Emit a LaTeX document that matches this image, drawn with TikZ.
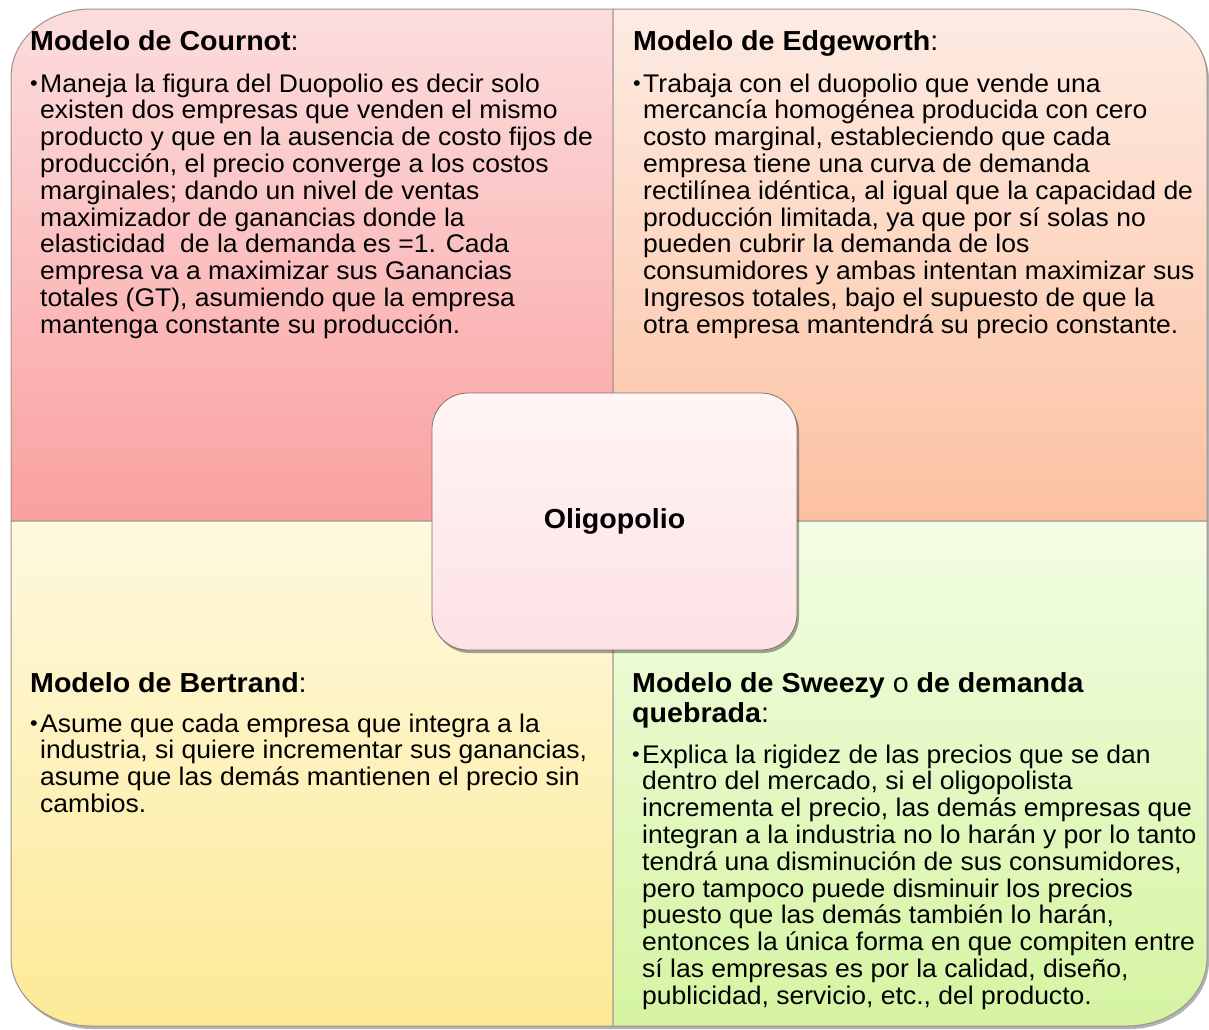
\documentclass[tikz,border=0pt]{standalone}
\usepackage{fontspec}
\setmainfont{Liberation Sans}[FakeStretch=1.04]
\usetikzlibrary{shadows}
\definecolor{tlTop}{HTML}{FCDDDD}
\definecolor{tlBot}{HTML}{FAA0A0}
\definecolor{trTop}{HTML}{FDEBE2}
\definecolor{trBot}{HTML}{FCC1A1}
\definecolor{blTop}{HTML}{FEF9DF}
\definecolor{blBot}{HTML}{FDE996}
\definecolor{brTop}{HTML}{F3FDE4}
\definecolor{brBot}{HTML}{D5F4A2}
\definecolor{cTop}{HTML}{FFF5F5}
\definecolor{cBot}{HTML}{FDE1E5}
\definecolor{edge}{HTML}{9C948F}
\tikzset{
  quad/.style={draw=edge, line width=1pt},
  headtxt/.style={anchor=base west, inner sep=0pt, font=\fontsize{27.5}{30}\selectfont},
  bodytxt/.style={anchor=base west, inner sep=0pt, font=\fontsize{25.5}{26.8}\selectfont},
  centerbox/.style={draw=edge!80!black, line width=0.8pt, rounded corners=36pt,
    top color=cTop, bottom color=cBot, minimum width=365pt, minimum height=257pt,
    font=\fontsize{27.5}{30}\selectfont\bfseries,
    drop shadow={shadow xshift=2pt, shadow yshift=-3pt, opacity=0.35, fill=black}},
}
\newcommand{\bul}{\leavevmode\llap{\raisebox{1.5pt}{\fontsize{21}{21}\selectfont•}\hspace{2.5pt}}}
\begin{document}
\begin{tikzpicture}[x=1pt,y=1pt]
\useasboundingbox (0,0) rectangle (1209,-1029);
\fill[white] (0,0) rectangle (1209,-1029);
% outer shadow
\fill[black, opacity=0.3, xshift=2pt, yshift=-3pt]
  (11,-77) arc[start angle=180,end angle=90,x radius=80,y radius=68]
  -- (1127,-9) arc[start angle=90,end angle=0,x radius=80,y radius=68]
  -- (1207,-958) arc[start angle=0,end angle=-90,x radius=80,y radius=68]
  -- (91,-1026) arc[start angle=270,end angle=180,x radius=80,y radius=68] -- cycle;
% quadrants
\path[quad, top color=tlTop, bottom color=tlBot]
  (613,-521) -- (11,-521) -- (11,-77) arc[start angle=180,end angle=90,x radius=80,y radius=68] -- (613,-9) -- cycle;
\path[quad, top color=trTop, bottom color=trBot]
  (613,-9) -- (1127,-9) arc[start angle=90,end angle=0,x radius=80,y radius=68] -- (1207,-521) -- (613,-521) -- cycle;
\path[quad, top color=blTop, bottom color=blBot]
  (11,-521) -- (613,-521) -- (613,-1026) -- (91,-1026) arc[start angle=270,end angle=180,x radius=80,y radius=68] -- cycle;
\path[quad, top color=brTop, bottom color=brBot]
  (613,-521) -- (1207,-521) -- (1207,-958) arc[start angle=0,end angle=-90,x radius=80,y radius=68] -- (613,-1026) -- cycle;
% texts
\node[headtxt] (tlh) at (30,-50) {\textbf{Modelo de Cournot}:};
\node[bodytxt] (tlb) at (40,-92) {\parbox[t]{565pt}{\raggedright\bul Maneja la figura del Duopolio es decir solo\\
existen dos empresas que venden el mismo\\
producto y que en la ausencia de costo fijos de\\
producción, el precio converge a los costos\\
marginales; dando un nivel de ventas\\
maximizador de ganancias donde la\\
elasticidad\ \ de la demanda es =1. Cada\\
empresa va a maximizar sus Ganancias\\
totales (GT), asumiendo que la empresa\\
mantenga constante su producción.}};
\node[headtxt] (trh) at (633,-50) {\textbf{Modelo de Edgeworth}:};
\node[bodytxt] (trb) at (643,-92) {\parbox[t]{565pt}{\raggedright\bul Trabaja con el duopolio que vende una\\
mercancía homogénea producida con cero\\
costo marginal, estableciendo que cada\\
empresa tiene una curva de demanda\\
rectilínea idéntica, al igual que la capacidad de\\
producción limitada, ya que por sí solas no\\
pueden cubrir la demanda de los\\
consumidores y ambas intentan maximizar sus\\
Ingresos totales, bajo el supuesto de que la\\
otra empresa mantendrá su precio constante.}};
\node[headtxt] (blh) at (30,-692) {\textbf{Modelo de Bertrand}:};
\node[bodytxt] (blb) at (40,-732) {\parbox[t]{565pt}{\raggedright\bul Asume que cada empresa que integra a la\\
industria, si quiere incrementar sus ganancias,\\
asume que las demás mantienen el precio sin\\
cambios.}};
\node[headtxt] (brh) at (632,-692) {\parbox[t]{565pt}{\raggedright\textbf{Modelo de Sweezy} o \textbf{de demanda}\\
\textbf{quebrada}:}};
\node[bodytxt] (brb) at (642,-763) {\parbox[t]{565pt}{\raggedright\bul Explica la rigidez de las precios que se dan\\
dentro del mercado, si el oligopolista\\
incrementa el precio, las demás empresas que\\
integran a la industria no lo harán y por lo tanto\\
tendrá una disminución de sus consumidores,\\
pero tampoco puede disminuir los precios\\
puesto que las demás también lo harán,\\
entonces la única forma en que compiten entre\\
sí las empresas es por la calidad, diseño,\\
publicidad, servicio, etc., del producto.}};
% center
\node[centerbox] (olig) at (614.5,-521.5) {Oligopolio};
\end{tikzpicture}
\end{document}
